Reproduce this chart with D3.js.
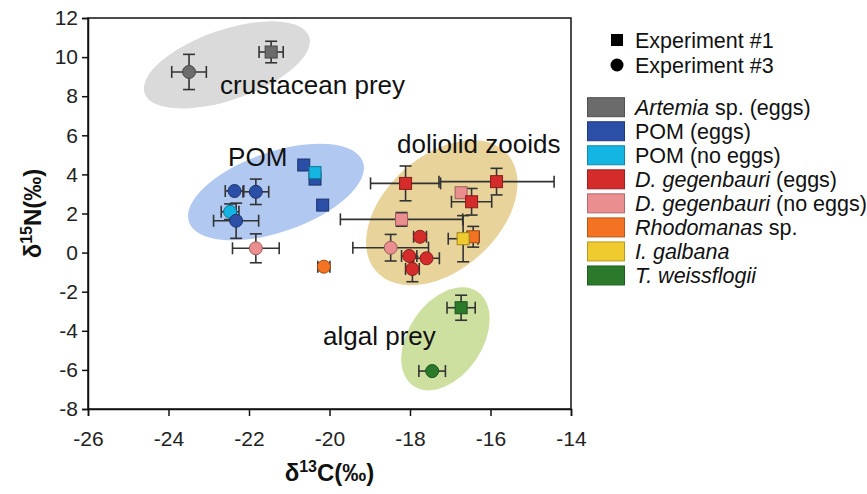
<!DOCTYPE html>
<html>
<head>
<meta charset="utf-8">
<script src="https://cdn.jsdelivr.net/npm/d3@7"></script>
<style>
  html, body { margin: 0; padding: 0; background: #fff; }
  svg { display: block; font-family: "Liberation Sans", Arial, sans-serif; }
</style>
</head>
<body>
<svg id="chart" width="867" height="494"></svg>
<script>
// ---------------- DATA ----------------
const xTicks = [-26, -24, -22, -20, -18, -16, -14];
const yTicks = [-8, -6, -4, -2, 0, 2, 4, 6, 8, 10, 12];

const seriesNames = ["Artemia sp. (eggs)", "POM (eggs)", "POM (no eggs)", "D. gegenbauri (eggs)",
  "D. gegenbauri (no eggs)", "Rhodomanas sp.", "I. galbana", "T. weissflogii"];
const experiments = ["Experiment #1", "Experiment #3"];

// [series index, experiment index (0=#1 square, 1=#3 circle), d13C, d15N, errC, errN]
const points = [
  [0, 0, -21.45, 10.26, 0.30, 0.55],
  [0, 1, -23.49, 9.24, 0.43, 0.90],
  [1, 0, -20.64, 4.48, 0, 0],
  [1, 0, -20.36, 3.76, 0, 0],
  [1, 0, -20.17, 2.43, 0, 0],
  [2, 0, -20.36, 4.09, 0, 0],
  [1, 1, -22.36, 3.15, 0.23, 0],
  [1, 1, -21.83, 3.11, 0.32, 0.65],
  [2, 1, -22.47, 2.09, 0.22, 0.40],
  [1, 1, -22.32, 1.63, 0.56, 0.90],
  [4, 0, -16.73, 3.06, 0, 0],
  [3, 0, -18.11, 3.54, 0.87, 0.89],
  [3, 0, -15.85, 3.63, 1.43, 0.68],
  [3, 0, -16.47, 2.60, 0.50, 0.68],
  [4, 0, -18.21, 1.70, 1.52, 0.35],
  [4, 1, -21.83, 0.22, 0.58, 0.74],
  [4, 1, -18.48, 0.25, 0.94, 0.68],
  [3, 1, -17.75, 0.81, 0.16, 0],
  [3, 1, -18.02, -0.17, 0.19, 0],
  [3, 1, -17.59, -0.29, 0.32, 0],
  [3, 1, -17.94, -0.84, 0.17, 0.65],
  [5, 0, -16.43, 0.81, 0.15, 0.53],
  [5, 1, -20.14, -0.72, 0.15, 0],
  [6, 0, -16.68, 0.71, 0.37, 1.18],
  [7, 0, -16.73, -2.82, 0.35, 0.64],
  [7, 1, -17.45, -6.06, 0.33, 0]
];

// group regions: label, centre d13C, centre d15N, label anchor d13C, label anchor d15N
const groupLabels = ["crustacean prey", "POM", "doliolid zooids", "algal prey"];
const groupCentreC = [-22.55, -21.33, -17.21, -17.12];
const groupCentreN = [9.6, 3.1, 2.04, -4.41];
const labelC = [-22.72, -22.52, -18.32, -20.16];
const labelN = [8.11, 4.43, 5.09, -4.73];

// ---------------- STYLE ----------------
const colors = ["#6b6b6b", "#2b4ea6", "#14b5e2", "#d42b2b", "#eb8e90", "#f47322", "#f0cb2f", "#2b7a2b"];
const groupFill = ["#dadada", "#b1c8f1", "#e8d39b", "#cde0a0"];
const groupShape = [ {rx: 87, ry: 35, rot: -19}, {rx: 92, ry: 40, rot: -19},
                     {rx: 88, ry: 57, rot: -42}, {rx: 57, ry: 37, rot: -56} ];

const margin = {left: 88, top: 18};
const iw = 571 - 88, ih = 409 - 18;

const svg = d3.select("#chart");
const g = svg.append("g").attr("transform", `translate(${margin.left},${margin.top})`);

const x = d3.scaleLinear().domain([-26, -14]).range([0, iw]);
const y = d3.scaleLinear().domain([-8, 12]).range([ih, 0]);

// ellipses
groupLabels.forEach((lab, i) => {
  const cx = x(groupCentreC[i]), cy = y(groupCentreN[i]);
  g.append("ellipse")
    .attr("cx", 0).attr("cy", 0)
    .attr("rx", groupShape[i].rx).attr("ry", groupShape[i].ry)
    .attr("transform", `translate(${cx},${cy}) rotate(${groupShape[i].rot})`)
    .attr("fill", groupFill[i]);
});

// group labels
groupLabels.forEach((lab, i) => {
  g.append("text")
    .attr("x", x(labelC[i])).attr("y", y(labelN[i]))
    .attr("font-size", 26).attr("fill", "#111")
    .text(lab);
});

// frame
g.append("rect").attr("x", 0).attr("y", 0).attr("width", iw).attr("height", ih)
  .attr("fill", "none").attr("stroke", "#111").attr("stroke-width", 1.5);

// axes
const xAxis = g.append("g").attr("transform", `translate(0,${ih})`)
  .call(d3.axisBottom(x).tickValues(xTicks).tickSize(7).tickPadding(15).tickFormat(d3.format("d")));
const yAxis = g.append("g")
  .call(d3.axisLeft(y).tickValues(yTicks).tickSize(6).tickPadding(4).tickFormat(d3.format("d")));
[xAxis, yAxis].forEach(a => {
  a.select(".domain").attr("stroke", "#111").attr("stroke-width", 1.5);
  a.selectAll(".tick line").attr("stroke", "#111").attr("stroke-width", 1.5);
  a.selectAll(".tick text").attr("font-size", 21).attr("fill", "#222")
    .attr("font-family", '"Liberation Sans", Arial, sans-serif')
    .text(d => d < 0 ? "-" + Math.abs(d) : d);
});

// axis titles
svg.append("text")
  .attr("x", margin.left + iw / 2).attr("y", 481)
  .attr("text-anchor", "middle").attr("font-size", 24).attr("font-weight", "bold").attr("fill", "#111")
  .html('δ<tspan dy="-9" font-size="16">13</tspan><tspan dy="9">C(‰)</tspan>');
svg.append("text")
  .attr("transform", `translate(41,${margin.top + ih / 2}) rotate(-90)`)
  .attr("text-anchor", "middle").attr("font-size", 24).attr("font-weight", "bold").attr("fill", "#111")
  .html('δ<tspan dy="-9" font-size="16">15</tspan><tspan dy="9">N(‰)</tspan>');

// error bars
const cap = 6;
const eb = g.append("g").attr("stroke", "#333").attr("stroke-width", 1.6).attr("fill", "none");
points.forEach(p => {
  const px = x(p[2]), py = y(p[3]);
  if (p[4] > 0) {
    const x0 = x(p[2] - p[4]), x1 = x(p[2] + p[4]);
    eb.append("line").attr("x1", x0).attr("x2", x1).attr("y1", py).attr("y2", py);
    eb.append("line").attr("x1", x0).attr("x2", x0).attr("y1", py - cap).attr("y2", py + cap);
    eb.append("line").attr("x1", x1).attr("x2", x1).attr("y1", py - cap).attr("y2", py + cap);
  }
  if (p[5] > 0) {
    const y0 = y(p[3] - p[5]), y1 = y(p[3] + p[5]);
    eb.append("line").attr("x1", px).attr("x2", px).attr("y1", y0).attr("y2", y1);
    eb.append("line").attr("x1", px - cap).attr("x2", px + cap).attr("y1", y0).attr("y2", y0);
    eb.append("line").attr("x1", px - cap).attr("x2", px + cap).attr("y1", y1).attr("y2", y1);
  }
});

// points
const sq = 12, rad = 6.5;
points.forEach(p => {
  const px = x(p[2]), py = y(p[3]);
  const fill = colors[p[0]];
  const stroke = d3.color(fill).darker(1.2);
  if (p[1] === 0) {
    g.append("rect").attr("x", px - sq / 2).attr("y", py - sq / 2).attr("width", sq).attr("height", sq)
      .attr("fill", fill).attr("stroke", stroke).attr("stroke-width", 1);
  } else {
    g.append("circle").attr("cx", px).attr("cy", py).attr("r", rad)
      .attr("fill", fill).attr("stroke", stroke).attr("stroke-width", 1);
  }
});

// legend: experiments
const lg = svg.append("g");
experiments.forEach((e, i) => {
  const cy = 40 + i * 25;
  if (i === 0) lg.append("rect").attr("x", 617 - 6).attr("y", cy - 6).attr("width", 12).attr("height", 12).attr("fill", "#000");
  else lg.append("circle").attr("cx", 617).attr("cy", cy).attr("r", 6.5).attr("fill", "#000");
  lg.append("text").attr("x", 635).attr("y", cy + 7.5).attr("font-size", 21.5).attr("fill", "#111").text(e);
});

// legend: series
const italicPart = ["Artemia", null, null, "D. gegenbauri", "D. gegenbauri", "Rhodomanas", "I. galbana", "T. weissflogii"];
seriesNames.forEach((s, i) => {
  const cy = 107.2 + i * 24.04;
  lg.append("rect").attr("x", 587.5).attr("y", cy - 9.5).attr("width", 37).attr("height", 19)
    .attr("fill", colors[i]).attr("stroke", d3.color(colors[i]).darker(0.8)).attr("stroke-width", 1);
  const t = lg.append("text").attr("x", 635).attr("y", cy + 7.5).attr("font-size", 21.5).attr("fill", "#111");
  const it = italicPart[i];
  if (it && s.startsWith(it)) {
    t.append("tspan").attr("font-style", "italic").text(it);
    t.append("tspan").text(s.slice(it.length));
  } else {
    t.text(s);
  }
});
</script>
</body>
</html>
